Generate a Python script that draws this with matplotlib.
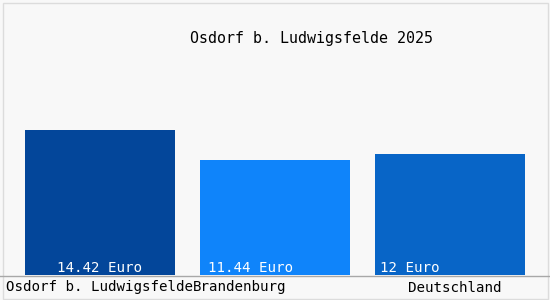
import matplotlib
matplotlib.use("Agg")
import matplotlib.pyplot as plt
import matplotlib.patches as patches

# data
regions = ["Osdorf b. Ludwigsfelde", "Brandenburg", "Deutschland"]
prices = [14.42, 11.44, 12.0]
price_labels = ["14.42 Euro", "11.44 Euro", "12 Euro"]
bar_colors = ["#03469a", "#0f84fa", "#0865c7"]
title = "Osdorf b. Ludwigsfelde 2025"

# label placement quirks from the original (offsets from bar centre, in bar units)
value_label_shift = [0.0, -0.14, -0.23]
region_label_shift = [0.0, -0.2, 0.03]

W, H = 550, 300
fig = plt.figure(figsize=(W / 100, H / 100), dpi=100)
fig.patch.set_facecolor("#f8f8f8")

# axes covers everything above the baseline at y=275px
ax = fig.add_axes([0, 25 / H, 1, 275 / H])
ax.set_facecolor("#f8f8f8")
x = list(range(len(regions)))
ax.bar(x, prices, width=150 / 175, color=bar_colors, align="center")
ax.set_xlim(-100 / 175, 450 / 175)
ax.set_ylim(0, 27.35)
ax.axis("off")

font = "DejaVu Sans Mono"
for i, lab in enumerate(price_labels):
    ax.text(x[i] + value_label_shift[i], 0.7, lab, color="white",
            ha="center", va="center", fontsize=10.2, family=font)

for i, lab in enumerate(regions):
    fig.text((100 + 175 * (x[i] + region_label_shift[i])) / W, 1 - 287.5 / H, lab,
             color="black", ha="center", va="center", fontsize=10.2, family=font)

fig.text(311 / W, 1 - 38 / H, title, ha="center", va="center",
         fontsize=10.8, family=font, color="black")

# frame lines
fig.add_artist(plt.Line2D([0, 1], [1 - 275.5 / H] * 2, color="#a8a8a8", lw=1))
fig.add_artist(patches.Rectangle((2.5 / W, 1.5 / H), 545 / W, 296 / H,
                                 fill=False, edgecolor="#dcdcdc", lw=1))

fig.savefig("out.png", dpi=100, facecolor=fig.get_facecolor())
